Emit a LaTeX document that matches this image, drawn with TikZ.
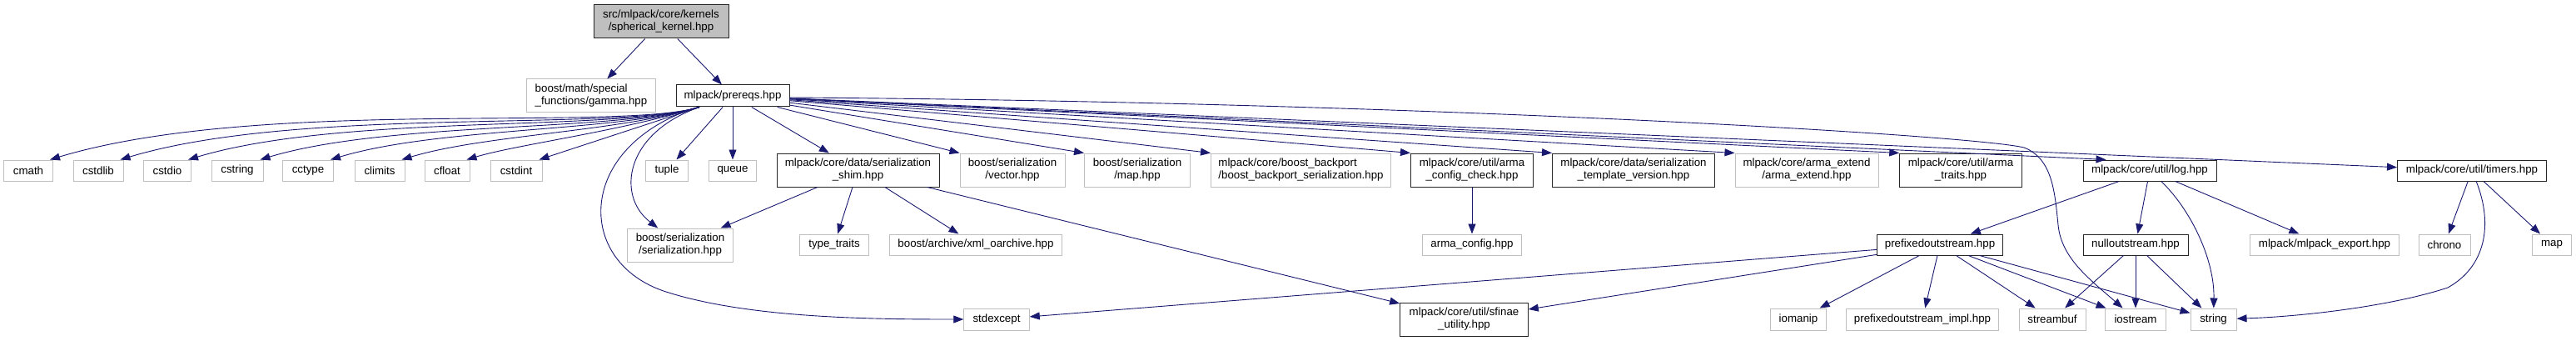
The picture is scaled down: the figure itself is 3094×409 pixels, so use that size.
\documentclass[tikz,border=0pt]{standalone}
\usepackage{fontspec}
\setmainfont{Liberation Sans}
\usetikzlibrary{arrows.meta}
\definecolor{edgeblue}{HTML}{191970}
\definecolor{grey75}{HTML}{BFBFBF}
\tikzset{
  hdr/.style={draw=grey75, fill=white, line width=1pt, inner sep=0pt, minimum height=25pt, align=center, font=\fontsize{13.3}{15}\selectfont},
  doc/.style={hdr, draw=black!85},
  dep/.style={draw=edgeblue, line width=0.9pt, -{Triangle[length=12pt,width=9pt]}},
}
\begin{document}
\begin{tikzpicture}[x=1pt,y=-1pt]
\useasboundingbox (0,0) rectangle (3094,409);
% top
\node[doc, fill=grey75, minimum width=162, minimum height=40] (root) at (794,26) {src/mlpack/core/kernels\\/spherical\_kernel.hpp};
\node[hdr, minimum width=155, minimum height=40, align=left] (gamma) at (710,115) {boost/math/special\\\_functions/gamma.hpp};
\node[doc, minimum width=136, minimum height=26] (pre) at (880,115) {mlpack/prereqs.hpp};
% second row
\foreach \n/\x/\w in {cmath/34/59, cstdlib/118/60, cstdio/201/57, cstring/285/62, cctype/370/61, climits/456/60, cfloat/537/54, cstdint/620/62, tuple/801/51, queue/880/57}
  \node[hdr, minimum width=\w] (\n) at (\x,204.5) {\n};
\node[doc, minimum width=195, minimum height=40] (shim) at (1030.5,204) {mlpack/core/data/serialization\\\_shim.hpp};
\node[hdr, minimum width=126, minimum height=40] (vector) at (1216,204) {boost/serialization\\/vector.hpp};
\node[hdr, minimum width=127, minimum height=40] (bmap) at (1366,204) {boost/serialization\\/map.hpp};
\node[hdr, minimum width=216, minimum height=40, align=left] (backport) at (1562.5,204) {mlpack/core/boost\_backport\\/boost\_backport\_serialization.hpp};
\node[doc, minimum width=147, minimum height=40] (cfgchk) at (1768,204) {mlpack/core/util/arma\\\_config\_check.hpp};
\node[doc, minimum width=195, minimum height=40] (tmplver) at (1962,204) {mlpack/core/data/serialization\\\_template\_version.hpp};
\node[hdr, minimum width=172, minimum height=40] (extend) at (2170,204) {mlpack/core/arma\_extend\\/arma\_extend.hpp};
\node[doc, minimum width=146.5, minimum height=40] (traits) at (2355,204) {mlpack/core/util/arma\\\_traits.hpp};
\node[doc, minimum width=160] (log) at (2582,204.5) {mlpack/core/util/log.hpp};
\node[doc, minimum width=179] (timers) at (2969,204.5) {mlpack/core/util/timers.hpp};
% third row
\node[hdr, minimum width=127.5, minimum height=40] (ser) at (817,294) {boost/serialization\\/serialization.hpp};
\node[hdr, minimum width=82.5] (ttraits) at (1002,293.5) {type\_traits};
\node[hdr, minimum width=207] (xml) at (1172,293.5) {boost/archive/xml\_oarchive.hpp};
\node[hdr, minimum width=119] (cfg) at (1768,293.5) {arma\_config.hpp};
\node[doc, minimum width=151.4] (prefix) at (2330,293.5) {prefixedoutstream.hpp};
\node[doc, minimum width=126] (null) at (2565,293.5) {nulloutstream.hpp};
\node[hdr, minimum width=179] (export) at (2792,293.5) {mlpack/mlpack\_export.hpp};
\node[hdr, minimum width=62] (chrono) at (2936,293.5) {chrono};
\node[hdr, minimum width=47] (map) at (3065,293.5) {map};
% bottom row
\node[hdr, minimum width=78.5, minimum height=26] (stdexc) at (1197,383) {stdexcept};
\node[doc, minimum width=153.6, minimum height=40] (sfinae) at (1758.5,383) {mlpack/core/util/sfinae\\\_utility.hpp};
\node[hdr, minimum width=67, minimum height=26] (iomanip) at (2160,383) {iomanip};
\node[hdr, minimum width=183, minimum height=26] (impl) at (2309,383) {prefixedoutstream\_impl.hpp};
\node[hdr, minimum width=80, minimum height=26] (streambuf) at (2465,383) {streambuf};
\node[hdr, minimum width=72.5, minimum height=26] (ios) at (2565,383) {iostream};
\node[hdr, minimum width=55, minimum height=26] (str) at (2658.5,383) {string};
% edges
\draw[dep] (root) -- (gamma);
\draw[dep] (root) -- (pre);
\foreach \n/\k in {cmath/250,cstdlib/215,cstdio/185,cstring/155,cctype/130,climits/100,cfloat/60}
  \draw[dep] ([xshift=-40pt]pre.south) .. controls +(-100,30) and +(\k,-0.3*\k) .. ([xshift=-4pt]\n.north east);
\draw[dep] ([xshift=-40pt]pre.south) -- ([xshift=-4pt]cstdint.north east);
\draw[dep] ([xshift=-40pt]pre.south) .. controls (750,160) and (740,235) .. (ser);
\draw[dep] ([xshift=-42pt]pre.south) .. controls (690,175) and (690,315) .. (800,350) .. controls (900,382) and (1050,383) .. (stdexc);
\draw[dep] (pre) -- (tuple);
\draw[dep] (pre) -- (queue);
\draw[dep] (pre) -- (shim);
\foreach \n in {vector,bmap,backport,cfgchk,tmplver,extend,traits}
  \draw[dep] (pre) -- (\n.north west);
\draw[dep] (pre) -- ([xshift=28pt]log.north west);
\draw[dep] (pre) -- (timers);
\draw[dep] ([yshift=-2pt]pre.east) .. controls (1700,122) and (2370,162) .. (2431,177) .. controls (2465,190) and (2468,230) .. (2472,270) .. controls (2476,310) and (2510,335) .. (ios);
\foreach \n in {ser,ttraits,xml,sfinae}
  \draw[dep] (shim) -- (\n);
\draw[dep] (cfgchk) -- (cfg);
\foreach \n in {prefix,null,export}
  \draw[dep] (log) -- (\n);
\draw[dep] (log) .. controls (2630,250) and (2660,310) .. (str);
\foreach \n in {stdexc,sfinae,iomanip,impl,streambuf,ios,str}
  \draw[dep] (prefix) -- (\n);
\foreach \n in {streambuf,ios,str}
  \draw[dep] (null) -- (\n);
\draw[dep] (timers) -- (chrono);
\draw[dep] (timers) -- (map);
\draw[dep] (timers) .. controls (2995,270) and (2985,320) .. (2940,345) .. controls (2870,368) and (2760,380) .. (str);
\end{tikzpicture}
\end{document}
